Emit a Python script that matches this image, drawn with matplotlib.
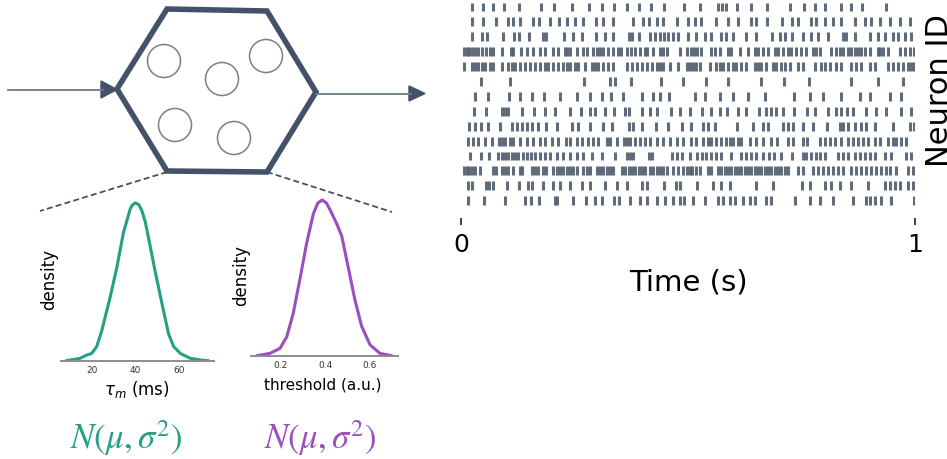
import numpy as np
import matplotlib.pyplot as plt
from matplotlib.patches import Polygon, Circle

plt.rcParams['mathtext.fontset'] = 'stix'

W, H = 947, 459
SLATE = '#435169'
ARROW = '#6e7c90'
SPIKE = '#4f5b6e'
GREEN = '#24a084'
PURPLE = '#9a4fbd'

# spike times (ms), neuron rows from top to bottom
n01 = [25, 48, 71, 95, 128, 176, 205, 244, 283, 310, 337, 365, 393, 419, 447, 491, 527, 565, 574, 583,
       609, 639, 674, 724, 756, 779, 801, 836, 858, 884, 937]
n02 = [25, 49, 77, 104, 114, 131, 158, 172, 197, 216, 233, 251, 269, 297, 312, 334, 379, 400, 415, 431,
       444, 475, 501, 516, 528, 562, 588, 610, 639, 650, 674, 707, 729, 742, 770, 782, 801, 819, 838,
       867, 889, 904, 924, 946, 966, 988]
n03 = [25, 46, 57, 92, 117, 128, 150, 181, 187, 227, 246, 266, 297, 317, 334, 369, 376, 391, 416, 427,
       438, 447, 457, 468, 479, 501, 518, 537, 551, 573, 584, 599, 628, 650, 684, 702, 713, 728, 753,
       772, 786, 808, 841, 849, 867, 900, 919, 933, 952, 963, 977, 992]
n04 = [7, 13, 18, 24, 31, 38, 46, 55, 64, 71, 90, 110, 114, 132, 145, 158, 173, 185, 203, 214, 229, 234,
       240, 255, 268, 277, 291, 299, 306, 313, 324, 334, 345, 352, 365, 374, 383, 394, 405, 409, 424,
       438, 444, 453, 482, 497, 506, 513, 520, 528, 551, 559, 570, 588, 595, 614, 632, 647, 654, 665,
       676, 691, 698, 709, 720, 727, 738, 749, 760, 775, 782, 790, 815, 826, 834, 841, 852, 859, 867,
       874, 881, 889, 900, 918, 924, 929, 940, 966, 977, 988, 998]
n05 = [7, 24, 31, 38, 46, 53, 64, 71, 90, 104, 112, 119, 130, 141, 152, 163, 174, 185, 192, 203, 214,
       225, 233, 240, 251, 258, 273, 288, 295, 302, 313, 324, 335, 365, 376, 387, 398, 409, 420, 431,
       438, 445, 460, 478, 497, 504, 511, 518, 526, 548, 562, 570, 577, 588, 599, 606, 617, 628, 647,
       654, 661, 672, 687, 694, 705, 713, 724, 742, 753, 779, 793, 801, 812, 826, 837, 859, 870, 881,
       900, 911, 940, 951, 962, 973, 984, 992, 998]
n06 = [43, 108, 271, 328, 339, 374, 441, 490, 540, 588, 660, 711, 766, 860, 919, 974]
n07 = [31, 60, 106, 131, 156, 183, 218, 255, 284, 310, 330, 357, 398, 422, 438, 459, 515, 537, 570, 599,
       632, 669, 733, 768, 797, 838, 878, 900, 944, 970]
n08 = [29, 55, 90, 97, 104, 134, 161, 185, 207, 240, 264, 284, 295, 317, 337, 361, 371, 398, 416, 431,
       462, 482, 504, 531, 551, 570, 587, 610, 628, 656, 672, 683, 694, 709, 733, 763, 779, 808, 826,
       837, 851, 863, 893, 915, 937, 970, 992]
n09 = [18, 31, 43, 60, 86, 112, 123, 134, 145, 156, 170, 187, 211, 244, 258, 284, 313, 332, 369, 378,
       398, 430, 457, 486, 507, 533, 543, 559, 609, 643, 665, 676, 709, 720, 731, 753, 775, 807, 834,
       841, 852, 867, 882, 893, 911, 952, 988, 998]
n10 = [16, 27, 38, 53, 68, 84, 90, 97, 108, 115, 130, 145, 158, 174, 185, 200, 214, 231, 240, 255, 266,
       280, 291, 302, 321, 328, 343, 358, 365, 372, 383, 394, 405, 416, 431, 445, 460, 475, 490, 507,
       518, 533, 543, 551, 562, 573, 584, 592, 599, 610, 617, 636, 650, 665, 683, 697, 720, 731, 753,
       763, 790, 801, 812, 823, 836, 852, 863, 874, 885, 896, 911, 922, 940, 951, 959, 970, 981]
n11 = [20, 43, 62, 82, 90, 97, 104, 112, 119, 126, 136, 145, 154, 163, 174, 185, 196, 211, 225, 240,
       255, 269, 288, 310, 339, 365, 372, 379, 413, 420, 464, 475, 486, 504, 520, 531, 540, 551, 562,
       573, 595, 617, 628, 639, 650, 665, 679, 690, 705, 729, 753, 760, 771, 782, 790, 801, 830, 841,
       852, 867, 878, 889, 900, 911, 933, 948, 981, 992]
n12 = [7, 13, 18, 24, 31, 42, 70, 77, 90, 97, 104, 114, 130, 134, 156, 163, 170, 180, 187, 203, 211,
       218, 225, 233, 240, 247, 255, 269, 277, 284, 299, 306, 313, 321, 328, 335, 354, 361, 369, 376,
       383, 391, 398, 405, 416, 424, 431, 438, 445, 454, 467, 478, 490, 497, 504, 509, 518, 526, 544,
       551, 566, 573, 581, 588, 595, 603, 610, 617, 625, 632, 639, 647, 654, 661, 669, 676, 683, 691,
       698, 705, 713, 720, 742, 753, 775, 786, 797, 808, 819, 830, 841, 860, 870, 881, 892, 903, 914,
       925, 936, 944, 959, 984, 996]
n13 = [16, 24, 55, 62, 70, 101, 128, 148, 156, 181, 203, 218, 240, 266, 284, 317, 343, 365, 398, 409,
       447, 474, 482, 520, 555, 573, 592, 650, 687, 750, 768, 801, 816, 834, 860, 896, 933, 944, 955,
       966, 985, 996]
n14 = [16, 51, 97, 141, 154, 172, 207, 212, 246, 275, 295, 310, 337, 349, 372, 394, 410, 431, 449, 466,
       482, 491, 511, 537, 566, 577, 592, 603, 621, 636, 647, 672, 683, 735, 768, 790, 819, 863, 893,
       900, 911, 926, 948, 998]
rows = [n01, n02, n03, n04, n05, n06, n07, n08, n09, n10, n11, n12, n13, n14]

# membrane time constant distribution (ms, relative density)
tau_x = [8.3, 14.7, 17.7, 20, 22.3, 24.6, 28.4, 31.5, 34.5, 37.6, 38.5, 39.9, 41.5, 43, 44.5, 46, 49,
         52.2, 55.2, 57.5, 60.6, 65.1, 71.2, 73.5]
tau_d = [0, 0.015, 0.036, 0.046, 0.09, 0.19, 0.40, 0.59, 0.81, 0.96, 0.985, 1.0, 0.99, 0.95, 0.88,
         0.78, 0.57, 0.36, 0.17, 0.09, 0.046, 0.015, 0.002, 0]
tau_ticks = [20, 40, 60]

# threshold distribution (a.u., relative density)
thr_x = [0.093, 0.152, 0.197, 0.227, 0.256, 0.286, 0.316, 0.346, 0.366, 0.386, 0.405, 0.42, 0.45,
         0.473, 0.502, 0.532, 0.562, 0.6, 0.644, 0.697]
thr_d = [0, 0.015, 0.047, 0.12, 0.27, 0.49, 0.72, 0.91, 0.98, 1.0, 0.98, 0.94, 0.85, 0.77, 0.57, 0.36,
         0.19, 0.07, 0.015, 0]
thr_ticks = [0.2, 0.4, 0.6]

# schematic geometry (pixels)
hex_pts = [(167, 9), (267, 11), (316, 92), (267, 172), (167, 171), (117, 89)]
pop_cells = [(164, 61), (222, 79), (266, 56), (175, 125), (234, 138)]

fig = plt.figure(figsize=(W / 100, H / 100), dpi=100)


def px_axes(x0, y0, x1, y1):
    return fig.add_axes([x0 / W, 1 - y1 / H, (x1 - x0) / W, (y1 - y0) / H])


# background schematic
bg = fig.add_axes([0, 0, 1, 1])
bg.set_xlim(0, W)
bg.set_ylim(H, 0)
bg.axis('off')
bg.add_patch(Polygon(hex_pts, closed=True, fill=False, ec=SLATE, lw=4.0, joinstyle='miter'))
for cx, cy in pop_cells:
    bg.add_patch(Circle((cx, cy), 16.5, fill=False, ec='#7f7f7f', lw=1.1))
bg.plot([8, 103], [90, 90], color=ARROW, lw=1.3)
bg.add_patch(Polygon([(101, 81), (117, 89.5), (101, 98)], color=SLATE))
bg.plot([316, 411], [93.5, 93.5], color=ARROW, lw=1.3)
bg.add_patch(Polygon([(409, 86), (425, 93.5), (409, 101)], color=SLATE))
bg.plot([167, 40], [172, 211], color=SLATE, lw=1.3, ls=(0, (3.3, 1.8)))
bg.plot([267, 392], [172, 212], color=SLATE, lw=1.3, ls=(0, (3.3, 1.8)))

# raster
rax = px_axes(461, 0, 915, 218)
rax.eventplot([np.array(r) / 1000 for r in rows], lineoffsets=np.arange(len(rows)),
              linelengths=0.6, linewidths=2.2, colors=SPIKE, alpha=0.9)
rax.set_xlim(0, 1)
rax.set_ylim(14.16, -0.47)
for s in rax.spines.values():
    s.set_visible(False)
rax.set_yticks([])
rax.set_xticks([0, 1])
rax.tick_params(axis='x', length=5, width=1.3, color='#333333', labelsize=18, pad=6)
rax.patch.set_alpha(0)
fig.text(688 / W, 1 - 268 / H, 'Time (s)', fontsize=21, ha='center', va='top')
fig.text(925 / W, 1 - 167 / H, 'Neuron ID', fontsize=22, rotation=90, ha='left', va='bottom')

# parameter distributions
for box, xs, ds, lim, ticks, col in [
        ((60.7, 195, 214, 360.7), tau_x, tau_d, (5.8, 76), tau_ticks, GREEN),
        ((250.7, 192.2, 398, 355.7), thr_x, thr_d, (0.066, 0.725), thr_ticks, PURPLE)]:
    ax = px_axes(*box)
    ax.plot(xs, ds, color=col, lw=2.2, solid_capstyle='round')
    ax.set_xlim(*lim)
    ax.set_ylim(0, 1.05)
    for side in ['left', 'top', 'right']:
        ax.spines[side].set_visible(False)
    ax.spines['bottom'].set_color('#8c8c8c')
    ax.spines['bottom'].set_linewidth(1.4)
    ax.set_yticks([])
    ax.set_xticks(ticks)
    ax.set_xticklabels([str(t) for t in ticks])
    ax.tick_params(axis='x', length=0, labelsize=6.5, labelcolor='#333333', pad=4)
    ax.patch.set_alpha(0)

fig.text(49 / W, 1 - 280 / H, 'density', fontsize=12, rotation=90, ha='center', va='center')
fig.text(241 / W, 1 - 276 / H, 'density', fontsize=12, rotation=90, ha='center', va='center')
fig.text(136.7 / W, 1 - 389 / H, r'$\tau_m$ (ms)', fontsize=12, ha='center', va='center',
         math_fontfamily='dejavusans')
fig.text(323 / W, 1 - 385 / H, 'threshold (a.u.)', fontsize=11, ha='center', va='center')
fig.text(126.7 / W, 1 - 438 / H, r'$N(\mu,\sigma^2)$', fontsize=25, color=GREEN, ha='center', va='center')
fig.text(320 / W, 1 - 438 / H, r'$N(\mu,\sigma^2)$', fontsize=25, color=PURPLE, ha='center', va='center')

fig.savefig('out.png', dpi=100)
